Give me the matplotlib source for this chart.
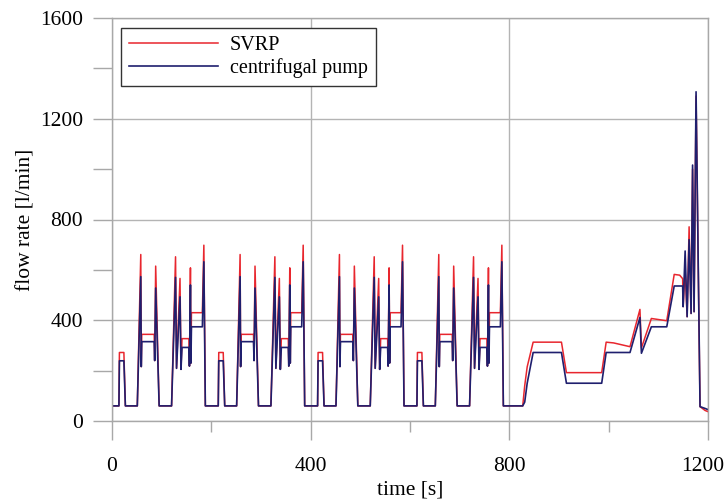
import numpy as np
import matplotlib
matplotlib.use("Agg")
import matplotlib.pyplot as plt
import matplotlib.transforms as mtransforms
from matplotlib.ticker import MultipleLocator

plt.rcParams['font.family'] = ['Liberation Serif', 'DejaVu Serif']

# time [s] and flow rates [l/min]
time = [
    0, 14, 15, 24, 27, 51, 58, 59, 60, 85, 86, 88, 95, 120, 128, 130, 137, 139,
    141, 155, 156, 158, 159, 160, 182, 185, 188,
    214, 215, 224, 227, 251, 258, 259, 260, 285, 286, 288, 295, 320, 328, 330, 337, 339,
    341, 355, 356, 358, 359, 360, 382, 385, 388,
    414, 415, 424, 427, 451, 458, 459, 460, 485, 486, 488, 495, 520, 528, 530, 537, 539,
    541, 555, 556, 558, 559, 560, 582, 585, 588,
    614, 615, 624, 627, 651, 658, 659, 660, 685, 686, 688, 695, 720, 728, 730, 737, 739,
    741, 755, 756, 758, 759, 760, 782, 785, 788,
    827, 831, 836, 848, 905, 915, 986, 995, 1010, 1043, 1063, 1066, 1086, 1117,
    1132, 1143, 1149, 1150, 1154, 1158, 1162, 1166, 1169, 1172, 1176, 1184, 1194, 1199,
]
svrp = [
    60, 60, 272, 272, 60, 60, 661, 216, 344, 344, 240, 615, 60, 60, 652, 209, 566, 205,
    327, 327, 218, 608, 230, 430, 430, 698, 60,
    60, 272, 272, 60, 60, 661, 216, 344, 344, 240, 615, 60, 60, 652, 209, 566, 205,
    327, 327, 218, 608, 230, 430, 430, 698, 60,
    60, 272, 272, 60, 60, 661, 216, 344, 344, 240, 615, 60, 60, 652, 209, 566, 205,
    327, 327, 218, 608, 230, 430, 430, 698, 60,
    60, 272, 272, 60, 60, 661, 216, 344, 344, 240, 615, 60, 60, 652, 209, 566, 205,
    327, 327, 218, 608, 230, 430, 430, 698, 60,
    60, 140, 215, 313, 313, 192, 192, 313, 310, 295, 443, 290, 407, 398,
    582, 579, 565, 454, 600, 414, 771, 427, 1000, 434, 1290, 57, 42, 38,
]
centrifugal = [
    60, 60, 239, 239, 60, 60, 573, 216, 315, 315, 240, 528, 60, 60, 570, 209, 493, 205,
    292, 292, 218, 540, 230, 374, 374, 632, 60,
    60, 239, 239, 60, 60, 573, 216, 315, 315, 240, 528, 60, 60, 570, 209, 493, 205,
    292, 292, 218, 540, 230, 374, 374, 632, 60,
    60, 239, 239, 60, 60, 573, 216, 315, 315, 240, 528, 60, 60, 570, 209, 493, 205,
    292, 292, 218, 540, 230, 374, 374, 632, 60,
    60, 239, 239, 60, 60, 573, 216, 315, 315, 240, 528, 60, 60, 570, 209, 493, 205,
    292, 292, 218, 540, 230, 374, 374, 632, 60,
    60, 75, 150, 272, 272, 150, 150, 272, 272, 272, 411, 269, 374, 374,
    536, 536, 536, 454, 675, 414, 720, 427, 1016, 434, 1307, 57, 50, 46,
]

fig = plt.figure(figsize=(7.28, 5.0), dpi=100)
ax = fig.add_axes([0.1538, 0.158, 0.8187, 0.806])

ax.plot(time, svrp, color='#e8262e', lw=1.1, label='SVRP')
ax.plot(time, centrifugal, color='#1f1f6e', lw=1.2, label='centrifugal pump')

ax.set_xlim(0, 1200)
ax.set_ylim(0, 1600)
ax.xaxis.set_major_locator(MultipleLocator(400))
ax.xaxis.set_minor_locator(MultipleLocator(200))
ax.yaxis.set_major_locator(MultipleLocator(400))
ax.yaxis.set_minor_locator(MultipleLocator(200))
ax.grid(True, which='major', color='#b4b4b4', lw=1.0)
for s in ax.spines.values():
    s.set_color('#a8a8a8')
    s.set_linewidth(1.0)
ax.tick_params(axis='x', which='major', direction='out', length=14, width=1.0,
               color='#a8a8a8', labelsize=15.5, pad=12)
ax.tick_params(axis='x', which='minor', direction='out', length=8, width=1.0, color='#a8a8a8')
ax.tick_params(axis='y', which='both', direction='out', length=14, width=1.0,
               color='#a8a8a8', labelsize=15.5, pad=7)

ax.set_xlabel('time [s]', fontsize=15.5, labelpad=3)
ax.set_ylabel('flow rate [l/min]', fontsize=15.5, labelpad=3)

leg = ax.legend(loc='upper left', bbox_to_anchor=(0.015, 0.975), borderaxespad=0,
                fontsize=14.5, fancybox=False, framealpha=1, edgecolor='#333333',
                handlelength=4.4, borderpad=0.4, labelspacing=0.15, handletextpad=0.6)
leg.get_frame().set_linewidth(1.0)

# nudge the 1200 label so it stays inside the figure
fig.canvas.draw()
for tick in ax.xaxis.get_major_ticks():
    if abs(tick.get_loc() - 1200) < 1e-6:
        lab = tick.label1
        lab.set_transform(lab.get_transform() +
                          mtransforms.ScaledTranslation(-5 / 100, 0, fig.dpi_scale_trans))

plt.savefig('out.png', dpi=100)
